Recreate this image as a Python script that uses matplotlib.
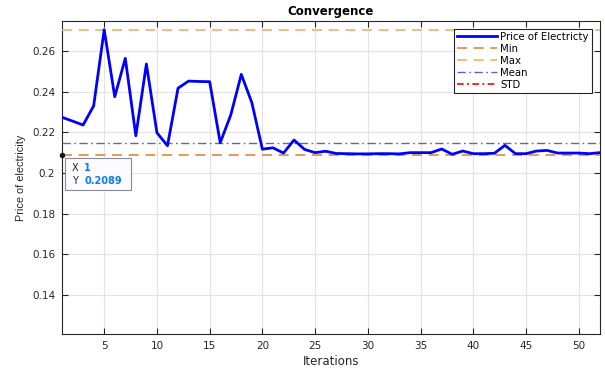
import matplotlib
matplotlib.use("Agg")
import matplotlib.pyplot as plt
from matplotlib.patches import Rectangle

plt.rcParams['font.family'] = ['DejaVu Sans']

iterations = list(range(1, 53))
price = [0.2274, 0.2255, 0.2236, 0.2330, 0.2705, 0.2375, 0.2564, 0.2183, 0.2536, 0.2198,
         0.2134, 0.2417, 0.2452, 0.2450, 0.2449, 0.2149, 0.2285, 0.2485, 0.2346, 0.2117,
         0.2124, 0.2098, 0.2162, 0.2116, 0.2100, 0.2107, 0.2096, 0.2095, 0.2094, 0.2094,
         0.2095, 0.2095, 0.2094, 0.2100, 0.2100, 0.2100, 0.2118, 0.2092, 0.2108, 0.2095,
         0.2095, 0.2097, 0.2136, 0.2095, 0.2095, 0.2108, 0.2111, 0.2098, 0.2098, 0.2098,
         0.2095, 0.2100]
min_val = 0.2089
max_val = 0.2705
mean_val = 0.2149
std_val = 0.0125
xticks = [5, 10, 15, 20, 25, 30, 35, 40, 45, 50]
yticks = [0.14, 0.16, 0.18, 0.20, 0.22, 0.24, 0.26]
ytick_labels = ['0.14', '0.16', '0.18', '0.2', '0.22', '0.24', '0.26']
tip_x_label = '1'
tip_y_label = '0.2089'

fig = plt.figure(figsize=(6.05, 3.71), dpi=100)
ax = fig.add_axes([0.1025, 0.0997, 0.889, 0.8445])

ax.plot(iterations, price, color='#0000FF', lw=2.0, label='Price of Electricty', zorder=5)
ax.axhline(min_val, color='#D98C3A', ls=(0, (6, 4)), lw=1.2, label='Min', zorder=3)
ax.axhline(max_val, color='#EDB26A', ls=(0, (6, 4)), lw=1.2, label='Max', zorder=3)
ax.axhline(mean_val, color='#5567C0', ls=(0, (6, 2.5, 1.2, 2.5)), lw=1.0, label='Mean', zorder=3)
ax.axhline(std_val, color='#FF0000', ls=(0, (4, 2, 1.2, 2)), lw=1.2, label='STD', zorder=3)

ax.set_xlim(1, 52)
ax.set_ylim(0.1208, 0.2749)
ax.set_xticks(xticks)
ax.set_yticks(yticks)
ax.set_yticklabels(ytick_labels)
ax.tick_params(direction='in', length=4, width=0.8, labelsize=7.5, colors='#262626',
               top=True, right=True, pad=5)
ax.grid(True, color='#E3E3E3', lw=0.8)
ax.set_axisbelow(True)
for s in ax.spines.values():
    s.set_color('#262626')
    s.set_linewidth(0.8)

ax.set_title('Convergence', fontsize=8.5, fontweight='bold', pad=4)
ax.set_xlabel('Iterations', fontsize=8.5, color='#262626', labelpad=3)
ax.set_ylabel('Price of electricity', fontsize=7.8, color='#262626', labelpad=4,
              family=['Liberation Sans', 'DejaVu Sans'])

leg = ax.legend(loc='upper right', bbox_to_anchor=(0.985, 0.975), fontsize=7.3,
                frameon=True, fancybox=False, edgecolor='#262626', framealpha=1,
                handlelength=4.0, handletextpad=0.3, labelspacing=0.2,
                borderpad=0.3, borderaxespad=0)
leg.get_frame().set_linewidth(0.8)

# data tip
ax.plot([1], [min_val], 'o', color='#1a1a1a', ms=3, clip_on=False, zorder=10)
box = Rectangle((1.3, 0.1916), 6.2, 0.0158, fc='#FAFAFF', ec='#8C8C8C', lw=0.8, zorder=11)
ax.add_patch(box)
ax.text(1.95, 0.2025, 'X', fontsize=7, va='center', ha='left', color='#262626', zorder=12)
ax.text(3.1, 0.2025, tip_x_label, fontsize=7, va='center', ha='left', color='#0A7CF0',
        fontweight='bold', zorder=12)
ax.text(1.95, 0.1963, 'Y', fontsize=7, va='center', ha='left', color='#262626', zorder=12)
ax.text(3.1, 0.1963, tip_y_label, fontsize=7, va='center', ha='left', color='#0A7CF0',
        fontweight='bold', zorder=12)

fig.savefig('out.png', dpi=100)
